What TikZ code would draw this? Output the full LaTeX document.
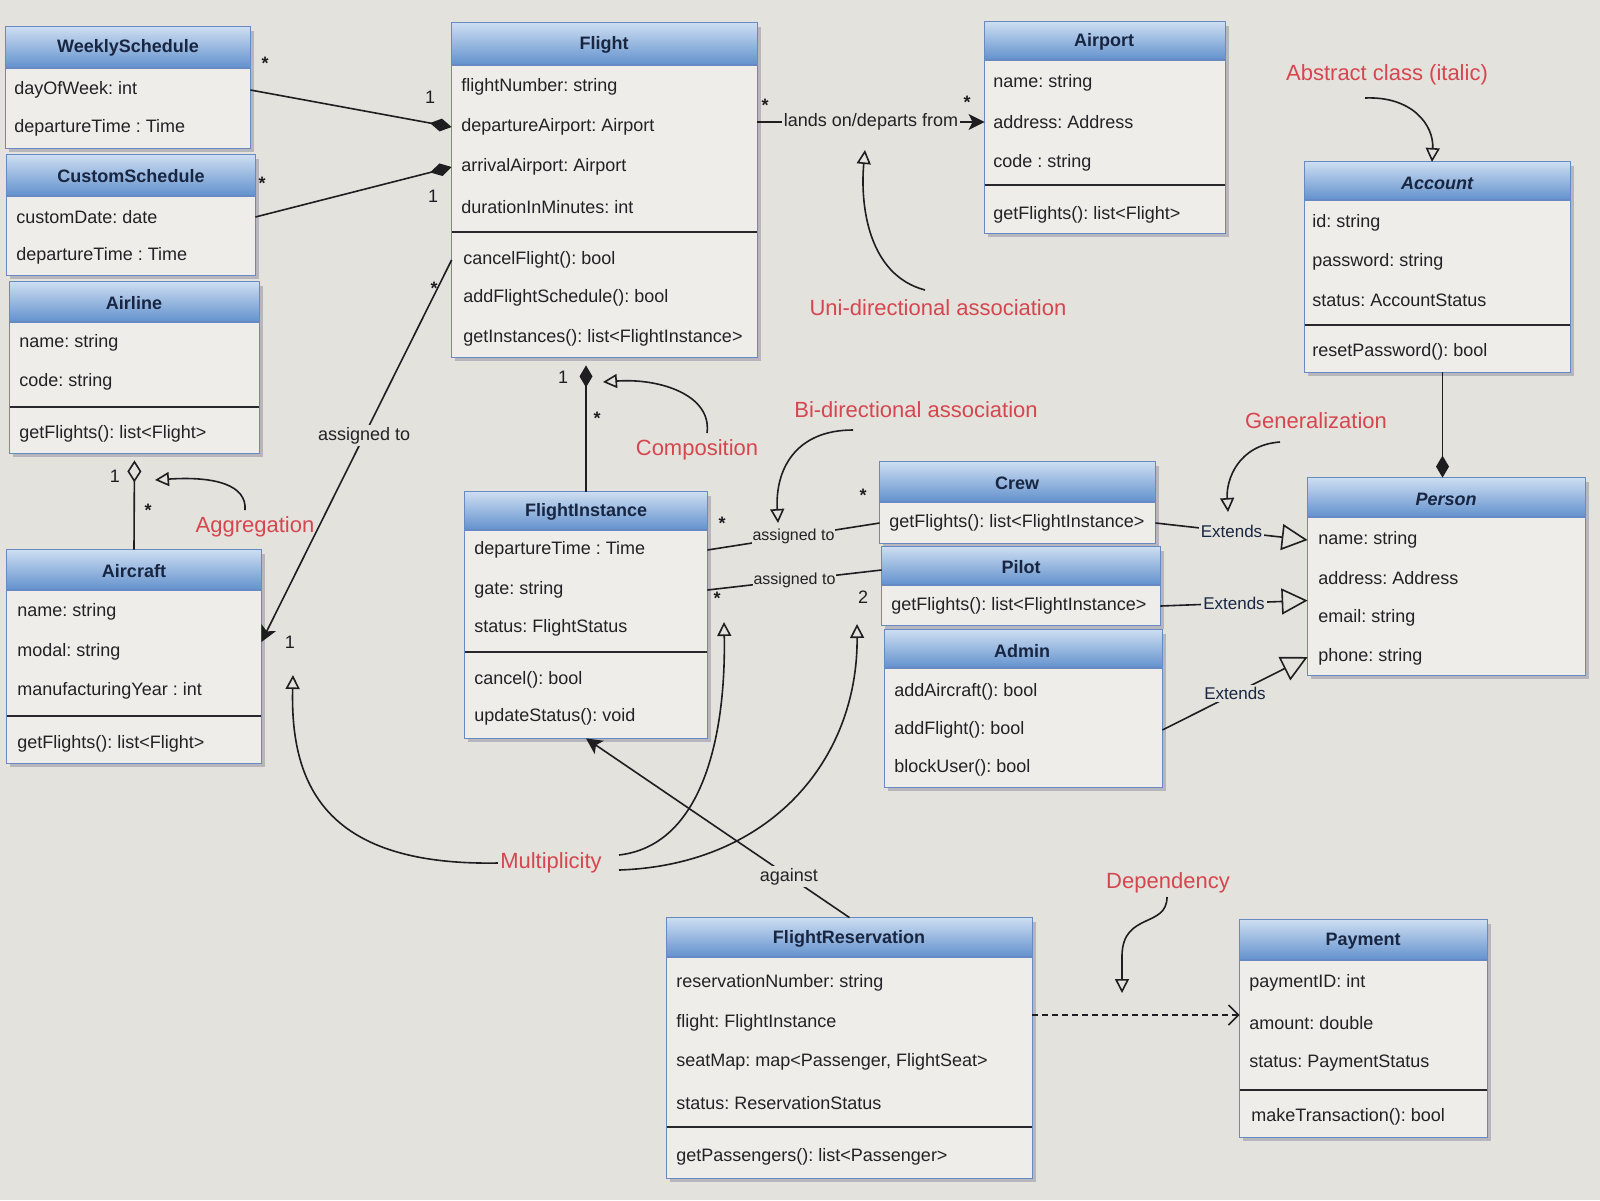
\documentclass[tikz,border=0pt]{standalone}
\usepackage{fontspec}
\setmainfont{Liberation Sans}
\frenchspacing
\usetikzlibrary{arrows.meta,fit,calc}
\definecolor{bg}{RGB}{228,226,221}
\definecolor{bodyc}{RGB}{238,237,234}
\definecolor{hdtop}{RGB}{204,221,241}
\definecolor{hdbot}{RGB}{98,145,205}
\definecolor{borderc}{RGB}{104,138,196}
\definecolor{navy}{RGB}{24,38,66}
\definecolor{txt}{RGB}{34,34,36}
\definecolor{notered}{RGB}{214,70,78}
\definecolor{linec}{RGB}{30,30,32}
\definecolor{shadowc}{RGB}{182,182,188}
\definecolor{sepc}{RGB}{40,40,44}
\newcommand\clsbox[6]{%
  \fill[shadowc] (#2+3,#3+4) rectangle (#4+4,#6+4);
  \node[fit={(#2,#3)(#4,#6)}, inner sep=0pt, fill=bodyc] (#1) {};
  \shade[top color=hdtop, bottom color=hdbot] (#2,#3) rectangle (#4,#5);
  \draw[borderc, line width=0.8pt] (#1.north west) rectangle (#1.south east);
  \draw[borderc, line width=0.6pt] (#2,#5) -- (#4,#5);
}
\newcommand\clssep[3]{\draw[sepc, line width=1pt] (#1,#3) -- (#2,#3);}
\tikzset{
  attr/.style={anchor=west, inner sep=0pt, text=txt, font=\fontsize{9}{10}\selectfont},
  ttl/.style={inner sep=0pt, text=navy, font=\fontsize{9}{10}\selectfont\bfseries},
  ttli/.style={inner sep=0pt, text=navy, font=\fontsize{9}{10}\selectfont\bfseries\itshape},
  note/.style={inner sep=1pt, text=notered, font=\fontsize{11}{12}\selectfont},
  mlt/.style={inner sep=0pt, text=linec, font=\fontsize{9}{10}\selectfont},
  mltst/.style={inner sep=0pt, text=linec, font=\fontsize{9}{10}\selectfont\bfseries},
  lbl/.style={fill=bg, inner sep=1pt, text=txt, font=\fontsize{9}{10}\selectfont},
  lblsm/.style={fill=bg, inner sep=0.5pt, text=txt, font=\fontsize{8}{9}\selectfont},
  lblext/.style={fill=bg, inner sep=1pt, text=navy, font=\fontsize{8.5}{9}\selectfont},
  conn/.style={draw=linec, line width=0.8pt},
  compo/.style={conn, -{Diamond[length=11pt,width=6.5pt]}},
  aggr/.style={conn, -{Diamond[open,length=11pt,width=7pt]}},
  navarr/.style={conn, -{Stealth[length=8pt,width=8pt,inset=2pt]}},
  genarr/.style={conn, -{Triangle[open,length=13pt,width=13pt]}},
  deparr/.style={conn, dash pattern=on 3pt off 2pt, -{Straight Barb[length=5pt,width=10pt]}},
  notearr/.style={conn, -{Triangle[open,length=7pt,width=7pt]}}
}
\begin{document}
\begin{tikzpicture}[x=0.5pt,y=-0.5pt]
\useasboundingbox (0,0) rectangle (1600,1200);
\fill[bg] (0,0) rectangle (1600,1200);

% ---------- classes ----------
\clsbox{ws}{6}{27}{250}{68}{148}
\node[ttl] (ws-t) at (128,48) {WeeklySchedule};
\node[attr] (ws-1) at (14,90) {dayOfWeek: int};
\node[attr] (ws-2) at (14,128) {departureTime : Time};

\clsbox{cs}{7}{155}{255}{196}{275}
\node[ttl] (cs-t) at (131,176) {CustomSchedule};
\node[attr] (cs-1) at (16,217) {customDate: date};
\node[attr] (cs-2) at (16,256) {departureTime : Time};

\clsbox{al}{10}{282}{259}{322}{453}
\node[ttl] (al-t) at (134,303) {Airline};
\node[attr] (al-1) at (19,343) {name: string};
\node[attr] (al-2) at (19,382) {code: string};
\clssep{10}{259}{407}
\node[attr] (al-3) at (19,434) {getFlights(): list<Flight>};

\clsbox{ac}{7}{550}{261}{590}{763}
\node[ttl] (ac-t) at (134,571) {Aircraft};
\node[attr] (ac-1) at (17,612) {name: string};
\node[attr] (ac-2) at (17,652) {modal: string};
\node[attr] (ac-3) at (17,691) {manufacturingYear : int};
\clssep{7}{261}{716}
\node[attr] (ac-4) at (17,744) {getFlights(): list<Flight>};

\clsbox{fl}{452}{23}{757}{65}{357}
\node[ttl] (fl-t) at (604,45) {Flight};
\node[attr] (fl-1) at (461,87) {flightNumber: string};
\node[attr] (fl-2) at (461,127) {departureAirport: Airport};
\node[attr] (fl-3) at (461,167) {arrivalAirport: Airport};
\node[attr] (fl-4) at (461,207) {durationInMinutes: int};
\clssep{452}{757}{232}
\node[attr] (fl-5) at (463,260) {cancelFlight(): bool};
\node[attr] (fl-6) at (463,298) {addFlightSchedule(): bool};
\node[attr] (fl-7) at (463,338) {getInstances(): list<FlightInstance>};

\clsbox{ap}{985}{22}{1225}{60}{233}
\node[ttl] (ap-t) at (1104,42) {Airport};
\node[attr] (ap-1) at (993,83) {name: string};
\node[attr] (ap-2) at (993,122) {address: Address};
\node[attr] (ap-3) at (993,163) {code : string};
\clssep{985}{1225}{185}
\node[attr] (ap-4) at (993,215) {getFlights(): list<Flight>};

\clsbox{acc}{1305}{162}{1570}{200}{372}
\node[ttli] (acc-t) at (1437,183) {Account};
\node[attr] (acc-1) at (1312,223) {id: string};
\node[attr] (acc-2) at (1312,262) {password: string};
\node[attr] (acc-3) at (1312,300) {status: AccountStatus};
\clssep{1305}{1570}{325}
\node[attr] (acc-4) at (1312,352) {resetPassword(): bool};

\clsbox{pe}{1308}{478}{1585}{517}{675}
\node[ttli] (pe-t) at (1446,499) {Person};
\node[attr] (pe-1) at (1318,540) {name: string};
\node[attr] (pe-2) at (1318,578) {address: Address};
\node[attr] (pe-3) at (1318,618) {email: string};
\node[attr] (pe-4) at (1318,657) {phone: string};

\clsbox{cr}{880}{462}{1155}{502}{543}
\node[ttl] (cr-t) at (1017,483) {Crew};
\node[attr] (cr-1) at (889,523) {getFlights(): list<FlightInstance>};

\clsbox{pi}{882}{547}{1160}{585}{625}
\node[ttl] (pi-t) at (1021,567) {Pilot};
\node[attr] (pi-1) at (891,606) {getFlights(): list<FlightInstance>};

\clsbox{ad}{885}{630}{1162}{668}{787}
\node[ttl] (ad-t) at (1022,651) {Admin};
\node[attr] (ad-1) at (894,692) {addAircraft(): bool};
\node[attr] (ad-2) at (894,730) {addFlight(): bool};
\node[attr] (ad-3) at (894,768) {blockUser(): bool};

\clsbox{fi}{465}{492}{707}{530}{738}
\node[ttl] (fi-t) at (586,512) {FlightInstance};
\node[attr] (fi-1) at (474,550) {departureTime : Time};
\node[attr] (fi-2) at (474,590) {gate: string};
\node[attr] (fi-3) at (474,628) {status: FlightStatus};
\clssep{465}{707}{652}
\node[attr] (fi-4) at (474,680) {cancel(): bool};
\node[attr] (fi-5) at (474,717) {updateStatus(): void};

\clsbox{fr}{667}{918}{1032}{957}{1178}
\node[ttl] (fr-t) at (849,939) {FlightReservation};
\node[attr] (fr-1) at (676,983) {reservationNumber: string};
\node[attr] (fr-2) at (676,1023) {flight: FlightInstance};
\node[attr] (fr-3) at (676,1062) {seatMap: map<Passenger, FlightSeat>};
\node[attr] (fr-4) at (676,1103) {status: ReservationStatus};
\clssep{667}{1032}{1127}
\node[attr] (fr-5) at (676,1157) {getPassengers(): list<Passenger>};

\clsbox{pa}{1240}{920}{1487}{960}{1137}
\node[ttl] (pa-t) at (1363,941) {Payment};
\node[attr] (pa-1) at (1249,983) {paymentID: int};
\node[attr] (pa-2) at (1249,1023) {amount: double};
\node[attr] (pa-3) at (1249,1063) {status: PaymentStatus};
\clssep{1240}{1487}{1090}
\node[attr] (pa-4) at (1251,1117) {makeTransaction(): bool};

% ---------- relations ----------
\draw[compo] (ws.east |- ws-1) -- (fl.west |- fl-2);
\draw[compo] (cs.east |- cs-1) -- (fl.west |- fl-3);
\draw[navarr] (fl.west |- fl-5) -- node[lbl, pos=0.46] (asg1) {assigned to} ($(ac.east |- ac-2)+(0,-10)$);
\draw[aggr, shorten >=3.5pt] (ac.north) -- (al.south);
\draw[compo, shorten >=4pt] (fi.north) -- (fi.north |- fl.south);
\draw[navarr] (fl.east |- ap-2) -- node[lbl] (lands) {lands on/departs from} (ap.west |- ap-2);
\draw[conn] (fi.east |- fi-1) -- node[lblsm] (asg2) {assigned to} (cr.west |- cr-1);
\draw[conn] (fi.east |- fi-2) -- node[lblsm] (asg3) {assigned to} ($(pi.west)+(0,-16)$);
\draw[genarr] (cr.east |- cr-1) -- node[lblext] (ext1) {Extends} (pe.west |- pe-1);
\draw[genarr] (pi.east |- pi-1) -- node[lblext] (ext2) {Extends} ($(pe.west)+(0,24)$);
\draw[genarr] (ad.east |- ad-2) -- node[lblext] (ext3) {Extends} (pe.west |- pe-4);
\coordinate (accp) at ($(acc.south)+(5,0)$);
\draw[compo] (accp) -- (accp |- pe.north);
\draw[navarr] (fr.north) -- node[lbl, pos=0.23] (agn) {against} (fi.south);
\draw[deparr] ($(fr.east |- pa-2)+(0,-8)$) -- ($(pa.west |- pa-2)+(0,-8)$);

% ---------- multiplicities ----------
\node[mltst] (m1) at (265,63) {*};
\node[mlt] (m2) at (430,97) {1};
\node[mltst] (m3) at (262,183) {*};
\node[mlt] (m4) at (433,196) {1};
\node[mltst] (m5) at (434,288) {*};
\node[mlt] (m6) at (290,642) {1};
\node[mlt] (m7) at (115,476) {1};
\node[mltst] (m8) at (148,510) {*};
\node[mlt] (m9) at (563,377) {1};
\node[mltst] (m10) at (597,418) {*};
\node[mltst] (m11) at (765,105) {*};
\node[mltst] (m12) at (967,102) {*};
\node[mltst] (m13) at (722,523) {*};
\node[mltst] (m14) at (863,495) {*};
\node[mltst] (m15) at (717,598) {*};
\node[mlt] (m16) at (863,597) {2};

% ---------- notes ----------
\node[note] (n-abs) at (1387,75) {Abstract class (italic)};
\node[note] (n-uni) at (938,308) {Uni-directional association};
\node[note] (n-bi) at (916,410) {Bi-directional association};
\node[note] (n-gen) at (1316,421) {Generalization};
\node[note] (n-comp) at (697,450) {Composition};
\node[note] (n-agg) at (255,527) {Aggregation};
\node[note] (n-mult) at (551,863) {Multiplicity};
\node[note] (n-dep) at (1168,883) {Dependency};

\coordinate (s-abs) at (1365,98);   \coordinate (t-abs) at (1432,162);
\coordinate (s-uni) at (925,290);   \coordinate (t-uni) at (865,150);
\coordinate (s-bi) at (853,430);    \coordinate (t-bi) at (778,523);
\coordinate (s-gen) at (1280,442);  \coordinate (t-gen) at (1228,512);
\coordinate (s-comp) at (707,433);  \coordinate (t-comp) at (603,382);
\coordinate (s-agg) at (245,510);   \coordinate (t-agg) at (155,480);
\coordinate (s-dep) at (1167,897);  \coordinate (t-dep) at (1122,993);
\coordinate (s-m2) at (619,855);    \coordinate (s-m3) at (619,870);
\coordinate (t-m1) at (293,675);    \coordinate (t-m2) at (724,622);
\coordinate (t-m3) at (857,624);

\draw[notearr] (s-abs) .. controls (1412,96) and (1434,125) .. (t-abs);
\draw[notearr] (s-uni) .. controls (868,275) and (860,205) .. (t-uni);
\draw[notearr] (s-bi) .. controls (795,430) and (775,470) .. (t-bi);
\draw[notearr] (s-gen) .. controls (1238,445) and (1226,480) .. (t-gen);
\draw[notearr] (s-comp) .. controls (712,395) and (660,378) .. (t-comp);
\draw[notearr] (s-agg) .. controls (247,485) and (215,476) .. (t-agg);
\draw[notearr] (s-dep) .. controls (1167,928) and (1123,912) .. (1122,955) -- (t-dep);
\draw[notearr] (n-mult.west) .. controls (330,866) and (290,790) .. (t-m1);
\draw[notearr] (s-m2) .. controls (705,845) and (726,730) .. (t-m2);
\draw[notearr] (s-m3) .. controls (770,865) and (858,760) .. (t-m3);
\end{tikzpicture}
\end{document}
